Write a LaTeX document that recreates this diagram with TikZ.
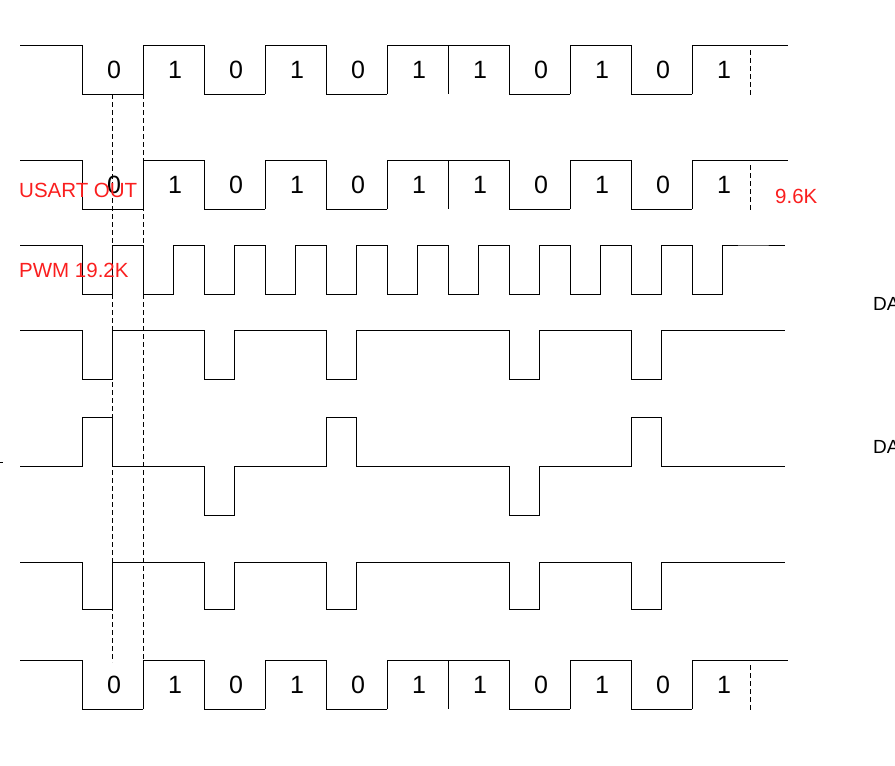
\documentclass[tikz,border=0pt]{standalone}
\usepackage{fontspec}
\setmainfont{Liberation Sans}
\usepackage{tikz}
\usetikzlibrary{positioning}

\definecolor{labelred}{RGB}{250,30,30}

\tikzset{
  wave/.style={black, line width=0.9pt},
  guide/.style={black, dash pattern=on 5pt off 3pt, line width=0.7pt},
  bitlabel/.style={font=\fontsize{25}{25}\selectfont, inner sep=0pt},
  redlabel/.style={labelred, font=\fontsize{20.5}{20.5}\selectfont, inner sep=0pt, anchor=west},
  sidelabel/.style={font=\fontsize{19}{19}\selectfont, inner sep=0pt, anchor=west}
}

% NRZ row: #1 = high y, #2 = low y
\newcommand{\nrzrow}[2]{%
  \draw[wave] (20,#1) -- (82,#1);
  \foreach \b [count=\k from 0, remember=\b as \p (initially 1)] in {0,1,0,1,0,1,1,0,1,0,1} {
    \pgfmathsetmacro{\xa}{82+61*\k}
    \pgfmathsetmacro{\xb}{143+61*\k}
    \pgfmathsetmacro{\ya}{\p==1 ? #1 : #2}
    \pgfmathsetmacro{\yb}{\b==1 ? #1 : #2}
    \draw[wave] (\xa,\ya) -- (\xa,\yb) -- (\xb,\yb);
    \node[bitlabel] at ({\xa+32},{(#1+#2)/2}) {\b};
  }
  \draw[wave] (448,#1) -- (448,#2);
  \draw[wave] (753,#1) -- (788,#1);
  \draw[guide] (750,{#1+5}) -- (750,{#2+2});
}

% return-to-zero pulses at the bits that are 0
\newcommand{\pulserow}[2]{%
  \draw[wave] (20,#1) -- (82,#1) -- (82,#2) -- (112,#2) -- (112,#1)
    -- (204,#1) -- (204,#2) -- (234,#2) -- (234,#1)
    -- (326,#1) -- (326,#2) -- (356,#2) -- (356,#1)
    -- (509,#1) -- (509,#2) -- (539,#2) -- (539,#1)
    -- (631,#1) -- (631,#2) -- (661,#2) -- (661,#1) -- (785,#1);
}

\begin{document}
\begin{tikzpicture}[x=1pt, y=-1pt]
\useasboundingbox (0,0) rectangle (895,766);

%data rows
\nrzrow{45}{94}
\nrzrow{160}{209}
\nrzrow{660}{709}

%pwm clock
\draw[wave] (20,245) -- (82,245)
  foreach \k in {0,...,10} { -- ({82+61*\k},294) -- ({112+61*\k},294) -- ({112+61*\k},245) -- ({143+61*\k},245) }
  -- (785,245);

%pulse rows
\pulserow{330}{379}
\pulserow{562}{609}

%bipolar row
\draw[wave] (20,466) -- (82,466) -- (82,417) -- (112,417) -- (112,466)
  -- (204,466) -- (204,515) -- (234,515) -- (234,466)
  -- (326,466) -- (326,417) -- (356,417) -- (356,466)
  -- (509,466) -- (509,515) -- (539,515) -- (539,466)
  -- (631,466) -- (631,417) -- (661,417) -- (661,466) -- (785,466);
\draw[wave] (0,462) -- (3,462);

%dashed guides
\draw[guide] (112,94) -- (112,662);
\draw[guide] (143,94) -- (143,662);

%labels
\node[redlabel] (usart) at (19,190) {USART OUT};
\node[redlabel] (pwm) at (19,270) {PWM 19.2K};
\node[redlabel] (baud) at (775,196) {9.6K};
\node[sidelabel] (da1) at (873,304) {DA};
\node[sidelabel] (da2) at (873,447) {DA};
\end{tikzpicture}
\end{document}
